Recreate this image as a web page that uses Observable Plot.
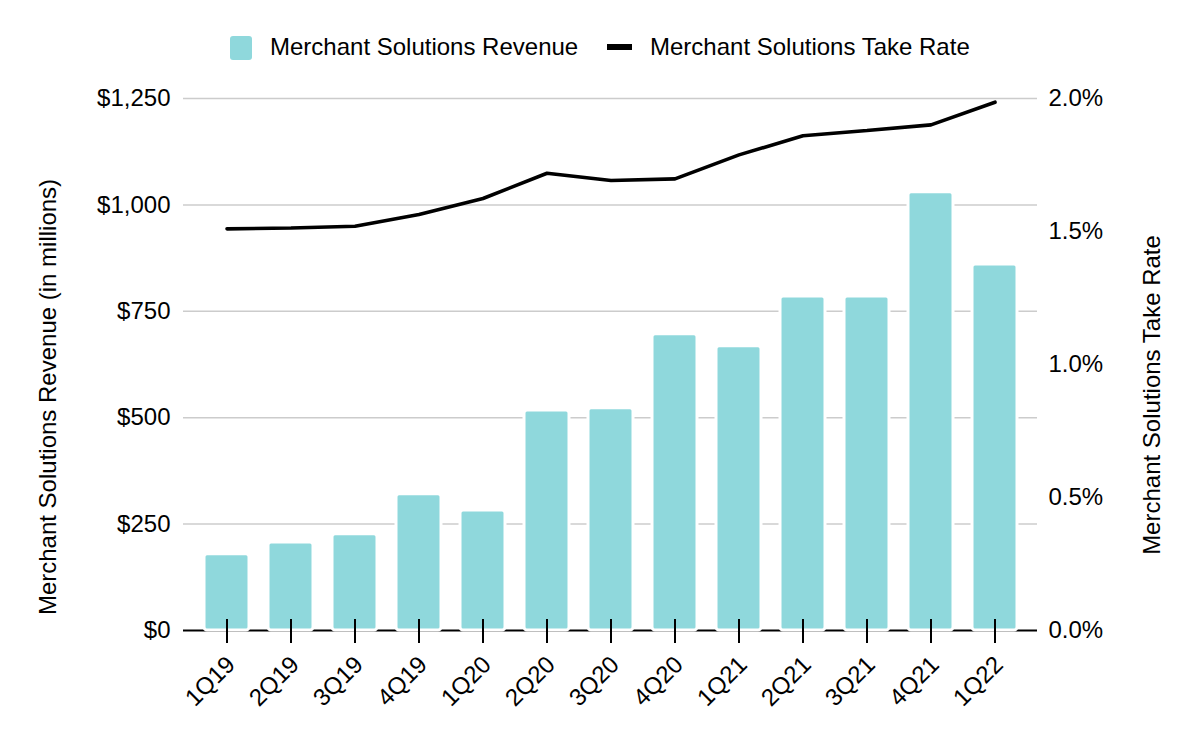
<!DOCTYPE html>
<html>
<head>
<meta charset="utf-8">
<script src="https://cdn.jsdelivr.net/npm/d3@7"></script>
<script src="https://cdn.jsdelivr.net/npm/@observablehq/plot@0.6"></script>
<style>
  html, body { margin: 0; padding: 0; background: #fff; }
  #wrap { position: relative; width: 1200px; height: 742px; font-family: "Liberation Sans", Arial, sans-serif; color: #000; overflow: hidden; }
  #legend { position: relative; height: 70px; width: 1200px; font-size: 24px; }
  .lg { position: absolute; white-space: nowrap; }
  .ytitle { position: absolute; font-size: 24px; white-space: nowrap; transform: translate(-50%, -50%) rotate(-90deg); }
</style>
</head>
<body>
<div id="wrap">
  <div id="legend">
    <div class="lg" style="left:230px; top:36px; width:22px; height:24px; background:#8fd8dc; border-radius:3px;"></div>
    <div class="lg" style="left:270px; top:34px; line-height:26px;">Merchant Solutions Revenue</div>
    <div class="lg" style="left:607px; top:44px; width:25px; height:6px; background:#000;"></div>
    <div class="lg" style="left:650px; top:34px; line-height:26px;">Merchant Solutions Take Rate</div>
  </div>
  <div id="chart"></div>
  <div class="ytitle" style="left:48px; top:397px;">Merchant Solutions Revenue (in millions)</div>
  <div class="ytitle" style="left:1152px; top:395px;">Merchant Solutions Take Rate</div>
</div>
<script>
const quarters = ["1Q19","2Q19","3Q19","4Q19","1Q20","2Q20","3Q20","4Q20","1Q21","2Q21","3Q21","4Q21","1Q22"];
const revenue = [179, 207, 226, 320, 282, 517, 522, 696, 668, 785, 785, 1030, 860];
const takeRate = [1.510, 1.513, 1.520, 1.564, 1.624, 1.719, 1.692, 1.698, 1.788, 1.860, 1.880, 1.901, 1.986];
const revenueTicks = [0, 250, 500, 750, 1000, 1250];
const rateTicks = [0, 0.5, 1.0, 1.5, 2.0];
const revenueMax = 1250;
const rateMax = 2.0;

const k = revenueMax / rateMax; // maps take rate (%) onto revenue scale
const data = quarters.map((q, i) => ({q, rev: revenue[i], rate: takeRate[i]}));

const chart = Plot.plot({
  width: 1200,
  height: 672,
  marginTop: 28,
  marginBottom: 112,
  marginLeft: 183,
  marginRight: 163,
  style: {fontSize: "24px", fontFamily: "'Liberation Sans', Arial, sans-serif", color: "#000", background: "white"},
  x: {domain: quarters, type: "band", paddingInner: 0.3, paddingOuter: 0.31, label: null},
  y: {domain: [0, revenueMax], label: null},
  marks: [
    Plot.ruleY(revenueTicks.filter(d => d > 0), {stroke: "#cccccc", strokeWidth: 1.5}),
    Plot.ruleY([0], {stroke: "#000", strokeWidth: 2}),
    Plot.barY(data, {x: "q", y: "rev", fill: "#8fd8dc", stroke: "white", strokeWidth: 3, rx: 3}),
    Plot.axisX({fill: "none", tickSize: 24, dy: -11, strokeWidth: 2, label: null}),
    Plot.axisX({tickSize: 0, tickPadding: 30, tickRotate: -45, dx: 4, label: null}),
    Plot.axisY(revenueTicks, {tickSize: 0, tickPadding: 13, tickFormat: d => "$" + d3.format(",")(d), label: null}),
    Plot.axisY(rateTicks.map(t => t * k), {anchor: "right", tickSize: 0, tickPadding: 11, tickFormat: d => (d / k).toFixed(1) + "%", label: null}),
    Plot.line(data, {x: "q", y: d => d.rate * k, stroke: "#000", strokeWidth: 3.6, strokeLinejoin: "miter"})
  ]
});
document.getElementById("chart").appendChild(chart);
</script>
</body>
</html>
